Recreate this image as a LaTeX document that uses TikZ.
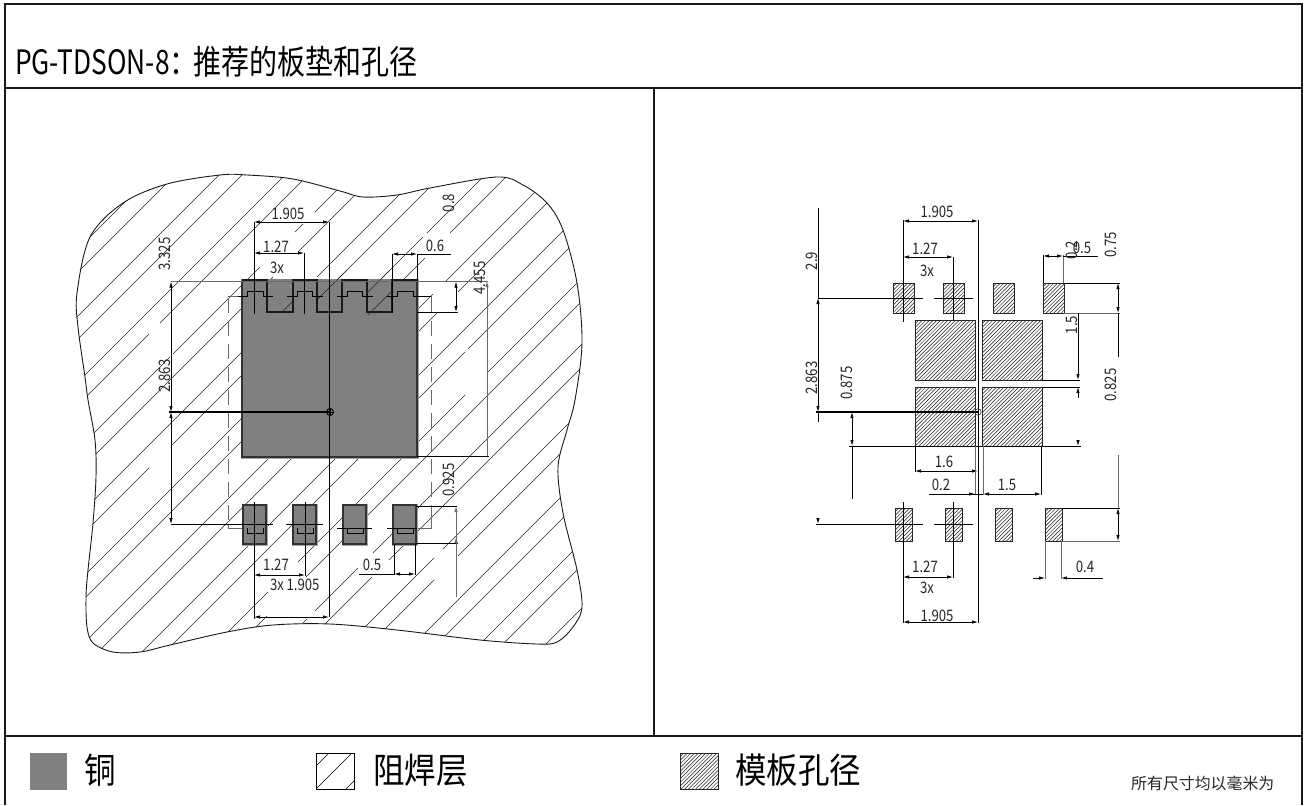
\documentclass[tikz,border=0pt]{standalone}
\usepackage{graphicx}
\usepackage{fontspec}
\setmainfont{Noto Sans CJK SC}
\usetikzlibrary{arrows.meta}
\definecolor{copperfill}{RGB}{128,128,128}
\definecolor{copperedge}{RGB}{50,50,50}
\definecolor{midline}{RGB}{105,105,105}
\tikzset{
  frameline/.style={line width=1.1pt,draw=black!90},
  thinl/.style={line width=.75pt,draw=black},
  grayl/.style={line width=.9pt,draw=midline},
  hatchl/.style={line width=.65pt,draw=black!85},
  finel/.style={line width=.5pt,draw=black!90},
  padl/.style={line width=.8pt,draw=black!85},
  dashl/.style={line width=.8pt,draw=midline,dash pattern=on 15pt off 8pt},
  tipboth/.style={{Latex[length=6pt,width=3.4pt]}-{Latex[length=6pt,width=3.4pt]}},
  tipend/.style={-{Latex[length=6pt,width=3.4pt]}},
  tipstart/.style={{Latex[length=6pt,width=3.4pt]}-},
  dimtext/.style={inner sep=0pt,font=\fontsize{13.2}{13.2}\selectfont,text=black!85,yscale=1.2,transform shape},
  dimvert/.style={rotate=90,dimtext},
  legtext/.style={inner sep=0pt,anchor=west,font=\fontsize{31.5}{31.5}\selectfont,yscale=1.12,transform shape},
}
\newcommand{\hl}[3]{\draw[hatchl] (#2,{#1-#2}) -- (#3,{#1-#3});}
\newcommand{\finehatch}[4]{%
  \begin{scope}
    \clip (#1,#2) rectangle (#3,#4);
    \foreach \fs in {0,3.7,...,140}{
      \draw[finel] ({#1+\fs},#2) -- ++(-70,70);
    }
  \end{scope}
  \draw[padl] (#1,#2) rectangle (#3,#4);}
\newcommand{\blobpath}{plot[smooth cycle,tension=.55] coordinates {
 (77,293) (90,237) (123,203) (167,184) (220,175) (247,175) (293,179) (340,191)
 (363,197) (397,195) (430,188) (497,177) (523,185) (547,203) (563,230) (577,283)
 (582,343) (575,400) (567,430) (558,467) (563,513) (577,570) (582,607) (573,627)
 (557,642) (537,644) (480,640) (397,630) (330,624) (273,625) (227,632) (170,645)
 (140,652) (113,652) (93,643) (87,627) (86,597) (88,570) (93,523) (96,477) (95,440)
 (88,400) (85,377) (78,327)}}
\newcommand{\hatpad}[4]{\draw[thinl,line width=1pt] (#1,296) -- (#2,296) -- (#2,291) -- (#3,291) -- (#3,296) -- (#4,296);}
\newcommand{\botpad}[1]{%
  \draw[line width=3pt,draw=copperfill!70!white] (#1,505) rectangle ({#1+23},544);
  \draw[line width=2pt,draw=copperedge,fill=copperfill] (#1,505) rectangle ({#1+23},544);
  \draw[line width=1pt,draw=black] ({#1+4},528) -- ({#1+4},533) -- ({#1+20},533) -- ({#1+20},528);}
\begin{document}
\begin{tikzpicture}[x=1pt,y=-1pt]
\useasboundingbox (0,0) rectangle (1305,805);
\fill[white] (0,0) rectangle (1305,805);
% frame
\draw[frameline] (5,805) -- (5,4) -- (1302,4) -- (1302,805);
\draw[frameline] (5,88) -- (1302,88);
\draw[frameline,line width=1.6pt] (5,736) -- (1302,736);
\draw[frameline] (654,88) -- (654,736);
\node[inner sep=0pt,anchor=west,font=\fontsize{28}{28}\selectfont,yscale=1.2,transform shape] (title) at (15,62) {\scalebox{.94}[1]{PG-TDSON-8}：\hspace{-4pt}推荐的板垫和孔径};
% blob hatch
\begin{scope}
\clip \blobpath;
\hl{327}{0}{700}\hl{350}{0}{700}\hl{394}{0}{700}\hl{417}{0}{700}\hl{460}{0}{700}
\hl{483}{0}{149}\hl{483}{160}{700}
\hl{527}{0}{170}\hl{527}{173}{260}\hl{527}{295}{303}\hl{527}{315}{700}
\hl{550}{0}{273}\hl{550}{298}{700}
\hl{594}{0}{250}\hl{594}{317}{700}
\hl{617}{0}{149}\hl{617}{172}{250}\hl{617}{317}{700}
\hl{660}{0}{250}\hl{660}{367}{423}\hl{660}{427}{700}
\hl{683}{0}{250}\hl{683}{368}{425}\hl{683}{450}{700}
\hl{727}{0}{280}\hl{727}{410}{433}\hl{727}{445}{700}
\hl{750}{0}{300}\hl{750}{410}{438}\hl{750}{458}{700}
\hl{794}{0}{345}\hl{794}{410}{700}
\hl{817}{0}{370}\hl{817}{410}{465}\hl{817}{468}{700}
\hl{860}{0}{268}\hl{860}{298}{465}\hl{860}{488}{700}
\hl{883}{0}{267}\hl{883}{306}{700}
\hl{926}{302}{307}\hl{926}{315}{358}\hl{926}{373}{700}
\hl{949}{0}{372}\hl{949}{389}{700}
\hl{992}{0}{434}\hl{992}{443}{700}
\hl{1014}{0}{434}\hl{1014}{458}{700}
\hl{1058}{0}{700}\hl{1081}{0}{700}\hl{1124}{0}{700}\hl{1147}{0}{700}\hl{1190}{0}{700}
\end{scope}
\draw[line width=.9pt,draw=black!90] \blobpath;
% dashed solder-mask outline
\draw[dashl] (228,298) -- (228,528);
\draw[dashl] (431,298) -- (431,514);
\draw[grayl] (431,514) -- (431,528) -- (417,528);
\draw[grayl] (228,296) -- (242,296);
\draw[grayl] (417,296) -- (431,296) -- (431,300);
\draw[grayl] (228,524) -- (228,528) -- (245,528);
% copper
\draw[line width=3pt,draw=copperfill!70!white] (242,280) rectangle (417,457);
\draw[line width=1.6pt,draw=copperfill,fill=copperfill] (242,280) rectangle (417,457);
\draw[line width=1.8pt,draw=copperedge] (242,281) -- (242,457) -- (417,457) -- (417,281);
\draw[line width=1.2pt,draw=black!90] (242,280) -- (267,280) -- (267,312) -- (293,312) -- (293,280) -- (317,280) -- (317,312) -- (342,312) -- (342,280) -- (367,280) -- (367,312) -- (392,312) -- (392,280) -- (417,280);
\hl{594}{282}{293}\hl{617}{317}{347}\hl{660}{367}{390}\hl{683}{368}{393}
\hatpad{238}{247}{263}{273}
\hatpad{287}{297}{312}{323}
\hatpad{337}{347}{362}{373}
\hatpad{387}{397}{413}{431}
% bottom pads
\botpad{243}\botpad{293}\botpad{343}\botpad{393}
% left dims
\draw[grayl] (171,281) -- (488,281);
\draw[thinl] (417,312) -- (458,312);
\draw[thinl,tipboth] (456,281.5) -- (456,312);
\draw[grayl,tipstart] (487,281) -- (487,456);
\draw[thinl] (417,456.5) -- (489,456.5);
\draw[thinl,tipboth] (254,222) -- (329,222);
\draw[thinl,tipboth] (254,253) -- (304,253);
\draw[thinl] (254,222) -- (254,314);
\draw[thinl] (304,253) -- (304,314);
\draw[line width=1pt,draw=black] (329,222) -- (329,412);
\draw[thinl] (329,412) -- (329,617);
\draw[thinl] (392,254) -- (392,313);
\draw[thinl] (417,254) -- (417,281);
\draw[thinl,tipboth] (392,254) -- (417,254);
\draw[thinl] (417,254) -- (451,254);
\draw[thinl,tipboth] (171,281.5) -- (171,412);
\draw[thinl,tipboth] (171,412) -- (171,524);
\draw[line width=1.3pt,draw=black] (169,412) -- (330,412);
\draw[line width=.9pt,draw=black] (330,412) circle (3.5);
\draw[line width=.9pt,draw=black] (326,412) -- (334,412) (330,408) -- (330,416);
\draw[thinl] (171,524) -- (273,524);
\draw[thinl] (286,524) -- (323,524);
\draw[thinl] (337,528) -- (372,528);
\draw[thinl] (387,528) -- (417,528);
\draw[thinl] (254,502) -- (254,619);
\draw[thinl] (305,502) -- (305,576);
\draw[thinl,tipboth] (254,575) -- (305,575);
\draw[thinl,tipboth] (254,617) -- (329,617);
\draw[thinl] (359,574) -- (394,574);
\draw[thinl,tipboth] (394,574) -- (415,574);
\draw[thinl] (394,544) -- (394,575);
\draw[thinl] (415,544) -- (415,575);
\draw[thinl] (416,506) -- (457,506);
\draw[thinl] (416,543) -- (458,543);
\draw[grayl,tipstart] (456,506) -- (456,597);
\draw[grayl,tipstart] (456,537) -- (456,545);
% left texts
\node[dimtext] (la) at (288,214) {1.905};
\node[dimtext] (lb) at (276,247) {1.27};
\node[dimtext] (lc) at (277,268) {3x};
\node[dimtext] (ld) at (435,246) {0.6};
\node[dimvert] (le) at (165,254) {3.325};
\node[dimvert] (lf) at (165,376) {2.863};
\node[dimvert] (lg) at (449,203) {0.8};
\node[dimvert] (lh) at (480,278) {4.455};
\node[dimvert] (li) at (449,480) {0.925};
\node[dimtext] (lj) at (276,565) {1.27};
\node[dimtext] (lk) at (277,585) {3x};
\node[dimtext] (ll) at (303,585) {1.905};
\node[dimtext] (lm) at (372,565) {0.5};
% right panel pads
\finehatch{893}{283}{914}{313}\finehatch{943}{283}{964}{313}\finehatch{993}{283}{1014}{313}\finehatch{1043}{283}{1064}{313}
\finehatch{915}{320}{975}{380}\finehatch{982}{320}{1042}{380}\finehatch{915}{387}{975}{446}\finehatch{982}{387}{1042}{446}
\finehatch{895}{508}{912}{541}\finehatch{945}{508}{962}{541}\finehatch{995}{508}{1012}{541}\finehatch{1045}{508}{1062}{541}
% right dims
\draw[thinl] (903,220) -- (903,322);
\draw[thinl] (953,257) -- (953,320);
\draw[line width=.8pt,draw=black] (978,220) -- (978,623);
\draw[thinl] (1043,255) -- (1043,283);
\draw[grayl] (1063,255) -- (1063,283);
\draw[thinl,tipboth] (903,221) -- (978,221);
\draw[thinl,tipboth] (903,257) -- (953,257);
\draw[thinl,tipboth] (1043,256) -- (1063,256);
\draw[thinl] (1063,256) -- (1098,256);
\draw[line width=.8pt,draw=black] (818,208) -- (818,298);
\draw[thinl,tipboth] (818,298) -- (818,412);
\draw[thinl] (818,412) -- (818,422);
\draw[thinl] (818,298) -- (923,298);
\draw[thinl] (934,298) -- (973,298);
\draw[line width=1.3pt,draw=black] (816,412) -- (978,412);
\draw[line width=.7pt,draw=black!70] (978,412) circle (3.2);
\draw[thinl,tipboth] (852,412) -- (852,446);
\draw[thinl] (852,446) -- (852,499);
\draw[thinl] (849,446) -- (1081,446);
\draw[thinl,tipstart] (1078,446) -- (1078,441);
\draw[thinl] (1064,283) -- (1120,283);
\draw[grayl] (1064,313) -- (1120,313);
\draw[thinl,tipboth] (1118,283) -- (1118,313);
\draw[thinl] (1118,313) -- (1118,357);
\draw[thinl] (1042,380) -- (1080,380);
\draw[thinl] (1042,387) -- (1080,387);
\draw[thinl,tipend] (1078,313) -- (1078,380);
\draw[thinl,tipstart] (1078,387) -- (1078,398);
\draw[grayl] (1118,455) -- (1118,508);
\draw[thinl,tipboth] (1118,508) -- (1118,541);
\draw[thinl] (1062,508) -- (1120,508);
\draw[grayl] (1062,541) -- (1120,541);
\draw[thinl] (816,524) -- (923,524);
\draw[thinl] (934,524) -- (973,524);
\draw[thinl,tipend] (818,518) -- (818,524);
\draw[thinl] (903,502) -- (903,623);
\draw[thinl] (953,502) -- (953,578);
\draw[thinl,tipboth] (903,577) -- (953,577);
\draw[thinl,tipboth] (903,622) -- (978,622);
\draw[thinl] (915,446) -- (915,472);
\draw[thinl,tipboth] (915,471) -- (978,471);
\draw[grayl] (975,446) -- (975,495);
\draw[grayl] (983,446) -- (983,495);
\draw[thinl] (1041,446) -- (1041,495);
\draw[thinl] (929,494) -- (975,494);
\draw[thinl,tipboth] (983,494) -- (1041,494);
\draw[thinl,tipend] (965,494) -- (975,494);
\draw[thinl] (975,494) -- (983,494);
\draw[grayl] (1045,541) -- (1045,579);
\draw[grayl] (1061,541) -- (1061,579);
\draw[thinl,tipend] (1033,578) -- (1045,578);
\draw[thinl,tipstart] (1061,578) -- (1103,578);
% right texts
\node[dimtext] (ra) at (937,212) {1.905};
\node[dimtext] (rb) at (925,249) {1.27};
\node[dimtext] (rc) at (927,271) {3x};
\node[dimtext] (rd) at (1082,248) {0.5};
\node[dimvert] (re) at (1072,250) {0.2};
\node[dimvert] (rf) at (1111,245) {0.75};
\node[dimvert] (rg) at (812,261) {2.9};
\node[dimvert] (rh) at (812,378) {2.863};
\node[dimvert] (ri) at (847,383) {0.875};
\node[dimvert] (rj) at (1072,325) {1.5};
\node[dimvert] (rk) at (1111,385) {0.825};
\node[dimtext] (rl) at (944,462) {1.6};
\node[dimtext] (rm) at (941,485) {0.2};
\node[dimtext] (rn) at (1007,485) {1.5};
\node[dimtext] (ro) at (925,567) {1.27};
\node[dimtext] (rp) at (927,588) {3x};
\node[dimtext] (rq) at (937,616) {1.905};
\node[dimtext] (rr) at (1085,567) {0.4};
% legend
\fill[copperfill] (30,753) rectangle (67,790);
\node[legtext] (l1) at (84,770) {铜};
\draw[line width=.6pt] (316,753) rectangle (354,789);
\begin{scope}
\clip (316,753) rectangle (354,789);
\foreach \fs in {1082,1105,1135}{\draw[line width=.6pt] (300,\fs-300) -- (400,\fs-400);}
\end{scope}
\node[legtext] (l2) at (373,770) {阻焊层};
\finehatch{680}{753}{718}{789}
\node[legtext] (l3) at (735,770) {模板孔径};
\node[inner sep=0pt,anchor=west,font=\fontsize{15.9}{15.9}\selectfont,text=black!85] (note) at (1131,783) {所有尺寸均以毫米为};
\end{tikzpicture}
\end{document}
